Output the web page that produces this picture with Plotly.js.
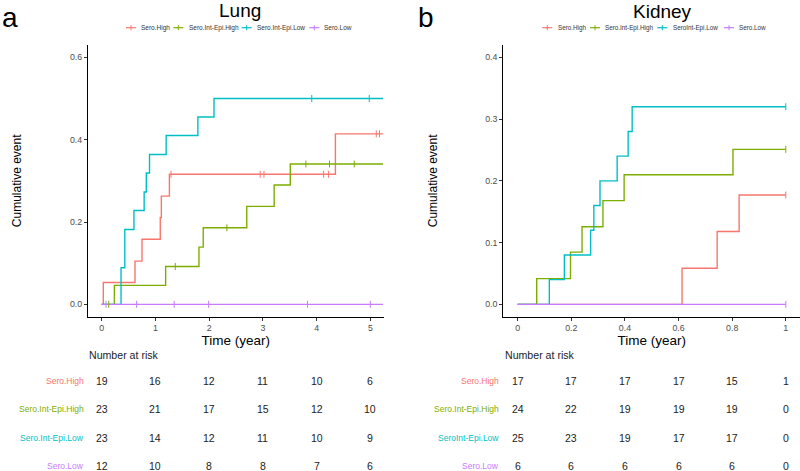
<!DOCTYPE html>
<html>
<head>
<meta charset="utf-8">
<script src="https://cdn.plot.ly/plotly-3.0.1.min.js"></script>
<style>
html,body{margin:0;padding:0;background:#fff;}
#chart{width:800px;height:471px;}
</style>
</head>
<body>
<div id="chart"></div>
<script>
// ---------- DATA ----------
const groupNamesLung = ["Sero.High", "Sero.Int-Epi.High", "Sero.Int-Epi.Low", "Sero.Low"];
const groupNamesKidney = ["Sero.High", "Sero.Int-Epi.High", "SeroInt-Epi.Low", "Sero.Low"];
const groupColors = ["#F8766D", "#7CAE00", "#00BFC4", "#C77CFF"];

// Lung: step times (year) and cumulative event
const lungHighT = [0, 0.03, 0.62, 0.75, 1.09, 1.11, 1.26, 4.35, 5.24];
const lungHighV = [0, 0.053, 0.105, 0.158, 0.211, 0.263, 0.316, 0.414, 0.414];
const lungHighCens = [1.29, 2.95, 3.02, 4.13, 4.22, 5.11, 5.17];

const lungIEHighT = [0, 0.236, 1.19, 1.81, 1.89, 2.70, 3.21, 3.51, 5.24];
const lungIEHighV = [0, 0.046, 0.092, 0.139, 0.186, 0.238, 0.290, 0.341, 0.341];
const lungIEHighCens = [0.13, 1.37, 2.33, 3.80, 4.24, 4.70];

const lungIELowT = [0, 0.36, 0.43, 0.60, 0.79, 0.83, 0.89, 1.20, 1.79, 2.09, 5.24];
const lungIELowV = [0, 0.089, 0.182, 0.228, 0.273, 0.319, 0.364, 0.410, 0.455, 0.500, 0.500];
const lungIELowCens = [3.91, 4.98];

const lungLowT = [0, 5.24];
const lungLowV = [0, 0];
const lungLowCens = [0.08, 0.65, 1.35, 1.99, 3.83, 5.0];

// Kidney
const kidHighT = [0, 0.613, 0.744, 0.826, 1.0];
const kidHighV = [0, 0.0585, 0.118, 0.177, 0.177];
const kidHighCens = [1.0];

const kidIEHighT = [0, 0.071, 0.197, 0.240, 0.318, 0.397, 0.803, 1.0];
const kidIEHighV = [0, 0.0417, 0.0846, 0.1257, 0.168, 0.2098, 0.251, 0.251];
const kidIEHighCens = [1.0];

const kidIELowT = [0, 0.118, 0.174, 0.272, 0.284, 0.307, 0.371, 0.412, 0.427, 1.0];
const kidIELowV = [0, 0.04, 0.08, 0.12, 0.16, 0.20, 0.24, 0.28, 0.32, 0.32];
const kidIELowCens = [1.0];

const kidLowT = [0, 1.0];
const kidLowV = [0, 0];
const kidLowCens = [1.0];

// Number at risk
const lungRiskTimes = [0, 1, 2, 3, 4, 5];
const lungRiskHigh = [19, 16, 12, 11, 10, 6];
const lungRiskIEHigh = [23, 21, 17, 15, 12, 10];
const lungRiskIELow = [23, 14, 12, 11, 10, 9];
const lungRiskLow = [12, 10, 8, 8, 7, 6];

const kidRiskTimes = [0, 0.2, 0.4, 0.6, 0.8, 1];
const kidRiskHigh = [17, 17, 17, 17, 15, 1];
const kidRiskIEHigh = [24, 22, 19, 19, 19, 0];
const kidRiskIELow = [25, 23, 19, 17, 17, 0];
const kidRiskLow = [6, 6, 6, 6, 6, 0];

// Axis ticks
const lungXTicks = [0, 1, 2, 3, 4, 5];
const lungYTicks = [0, 0.2, 0.4, 0.6];
const kidXTicks = [0, 0.2, 0.4, 0.6, 0.8, 1];
const kidYTicks = [0, 0.1, 0.2, 0.3, 0.4];

// ---------- BUILD ----------
const W = 800, H = 471;
const px = v => v / W;
const py = v => 1 - v / H;
const FONT = "Liberation Sans, Arial, sans-serif";

function stepAt(t, T, V) {
  let v = V[0];
  for (let i = 0; i < T.length; i++) { if (T[i] <= t) v = V[i]; }
  return v;
}

const lungSeries = [
  [lungHighT, lungHighV, lungHighCens],
  [lungIEHighT, lungIEHighV, lungIEHighCens],
  [lungIELowT, lungIELowV, lungIELowCens],
  [lungLowT, lungLowV, lungLowCens]
];
const kidSeries = [
  [kidHighT, kidHighV, kidHighCens],
  [kidIEHighT, kidIEHighV, kidIEHighCens],
  [kidIELowT, kidIELowV, kidIELowCens],
  [kidLowT, kidLowV, kidLowCens]
];

const traces = [];
function addSeries(series, names, xa, ya) {
  series.forEach((s, i) => {
    traces.push({
      x: s[0], y: s[1], name: names[i], mode: "lines",
      line: {shape: "hv", color: groupColors[i], width: 1.4},
      xaxis: xa, yaxis: ya, showlegend: false, hoverinfo: "skip"
    });
  });
  series.forEach((s, i) => {
    traces.push({
      x: s[2], y: s[2].map(t => stepAt(t, s[0], s[1])), name: names[i] + " censored",
      mode: "markers",
      marker: {symbol: "line-ns-open", size: 5, color: groupColors[i], line: {width: 1, color: groupColors[i]}},
      xaxis: xa, yaxis: ya, showlegend: false, hoverinfo: "skip"
    });
  });
}
addSeries(lungSeries, groupNamesLung, "x", "y");
addSeries(kidSeries, groupNamesKidney, "x2", "y2");

const yTop = 45, yBot = 316.7;
function axisBase() {
  return {
    showline: true, linecolor: "#000", linewidth: 1.1, mirror: false,
    ticks: "outside", ticklen: 3, tickwidth: 1, tickcolor: "#333",
    showgrid: false, zeroline: false, automargin: false,
    tickfont: {family: FONT, size: 8.8, color: "#4D4D4D"}
  };
}

const layout = {
  width: W, height: H,
  margin: {l: 0, r: 0, t: 0, b: 0},
  paper_bgcolor: "#fff", plot_bgcolor: "#fff",
  font: {family: FONT},
  showlegend: false,
  xaxis: Object.assign(axisBase(), {
    domain: [px(88), px(383.5)], range: [-0.255, 5.245], anchor: "y",
    tickvals: lungXTicks,
    title: {text: "Time (year)", font: {family: FONT, size: 13.5, color: "#000"}, standoff: 1}
  }),
  yaxis: Object.assign(axisBase(), {
    domain: [py(yBot), py(yTop)], range: [-0.03, 0.63], anchor: "x",
    tickvals: lungYTicks, tickformat: ".1f",
    title: {text: "Cumulative event", font: {family: FONT, size: 12, color: "#000"}, standoff: 45}
  }),
  xaxis2: Object.assign(axisBase(), {
    domain: [px(503.3), 1], range: [-0.0537, 1.053], anchor: "y2",
    tickvals: kidXTicks, ticktext: kidXTicks.map(v => String(v)),
    title: {text: "Time (year)", font: {family: FONT, size: 13.5, color: "#000"}, standoff: 1}
  }),
  yaxis2: Object.assign(axisBase(), {
    domain: [py(yBot), py(yTop)], range: [-0.02, 0.42], anchor: "x2",
    tickvals: kidYTicks, tickformat: ".1f",
    title: {text: "Cumulative event", font: {family: FONT, size: 12, color: "#000"}, standoff: 45}
  }),
  annotations: [],
  shapes: []
};

const ann = layout.annotations;
// Panel letters and titles
ann.push({text: "a", x: px(0), y: py(18), xref: "paper", yref: "paper", xanchor: "left", yanchor: "middle", showarrow: false, font: {family: FONT, size: 28, color: "#000"}});
ann.push({text: "b", x: px(416), y: py(18), xref: "paper", yref: "paper", xanchor: "left", yanchor: "middle", showarrow: false, font: {family: FONT, size: 28, color: "#000"}});
ann.push({text: "Lung", x: px(240), y: py(11), xref: "paper", yref: "paper", xanchor: "center", yanchor: "middle", showarrow: false, font: {family: FONT, size: 19, color: "#000"}});
ann.push({text: "Kidney", x: px(662), y: py(12), xref: "paper", yref: "paper", xanchor: "center", yanchor: "middle", showarrow: false, font: {family: FONT, size: 19, color: "#000"}});

// Legends
const lungLegendSym = [131, 178.3, 246.7, 314.3];
const lungLegendTxt = [140, 187.7, 255.7, 322.7];
const kidLegendSym = [547.3, 595, 662.3, 729];
const kidLegendTxt = [557, 604, 672, 737.5];
function addLegend(names, syms, txts, yc, fs) {
  names.forEach((n, i) => {
    const c = syms[i];
    layout.shapes.push({type: "line", xref: "paper", yref: "paper", x0: px(c - 5), x1: px(c + 5), y0: py(yc), y1: py(yc), line: {color: groupColors[i], width: 1.2}});
    layout.shapes.push({type: "line", xref: "paper", yref: "paper", x0: px(c), x1: px(c), y0: py(yc - 2.5), y1: py(yc + 2.5), line: {color: groupColors[i], width: 1}});
    ann.push({text: n, x: px(txts[i] - 1), y: py(yc), xref: "paper", yref: "paper", xanchor: "left", yanchor: "middle", showarrow: false, font: {family: FONT, size: fs, color: "#333"}});
  });
}
addLegend(groupNamesLung, lungLegendSym, lungLegendTxt, 27.7, 6.5);
addLegend(groupNamesKidney, kidLegendSym, kidLegendTxt, 27.7, 6.3);

// Risk tables
const rowY = [380.7, 409.3, 437.7, 466];
function addRisk(names, times, rows, xref, labelRight, headX) {
  ann.push({text: "Number at risk", x: px(headX - 1), y: py(355), xref: "paper", yref: "paper", xanchor: "left", yanchor: "middle", showarrow: false, font: {family: FONT, size: 10.6, color: "#222"}});
  rows.forEach((r, i) => {
    ann.push({text: names[i], x: px(labelRight + 1), y: py(rowY[i]), xref: "paper", yref: "paper", xanchor: "right", yanchor: "middle", showarrow: false, font: {family: FONT, size: 8.5, color: groupColors[i]}});
    r.forEach((v, j) => {
      ann.push({text: String(v), x: times[j], y: py(rowY[i]), xref: xref, yref: "paper", xanchor: "center", yanchor: "middle", showarrow: false, font: {family: FONT, size: 10.5, color: "#222"}});
    });
  });
}
addRisk(groupNamesLung, lungRiskTimes, [lungRiskHigh, lungRiskIEHigh, lungRiskIELow, lungRiskLow], "x", 85, 88);
addRisk(groupNamesKidney, kidRiskTimes, [kidRiskHigh, kidRiskIEHigh, kidRiskIELow, kidRiskLow], "x2", 500, 504);

Plotly.newPlot("chart", traces, layout, {staticPlot: true, displayModeBar: false});
</script>
</body>
</html>
